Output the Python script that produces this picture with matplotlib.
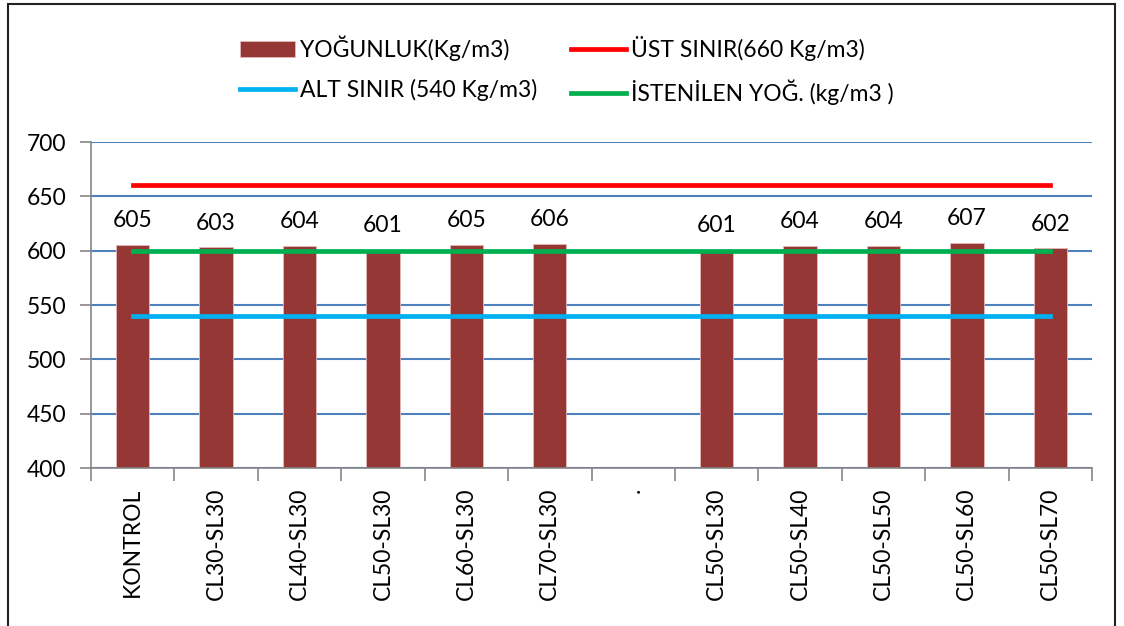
import numpy as np
import matplotlib
matplotlib.use('Agg')
import matplotlib.pyplot as plt
from matplotlib.patches import Rectangle

plt.rcParams['font.family'] = ['Lato', 'DejaVu Sans']

categories = ['KONTROL', 'CL30-SL30', 'CL40-SL30', 'CL50-SL30', 'CL60-SL30',
              'CL70-SL30', '.', 'CL50-SL30', 'CL50-SL40', 'CL50-SL50',
              'CL50-SL60', 'CL50-SL70']
yogunluk = [605, 603, 604, 601, 605, 606, np.nan, 601, 604, 604, 607, 602]
ust_sinir = [660, 660, 660, 660, 660, 660, 660, 660, 660, 660, 660, 660]
alt_sinir = [540, 540, 540, 540, 540, 540, 540, 540, 540, 540, 540, 540]
istenilen = [600, 600, 600, 600, 600, 600, 600, 600, 600, 600, 600, 600]

fs = 16.5
grid_blue = '#4F81BD'
axis_gray = '#868686'

fig = plt.figure(figsize=(11.24, 6.26), dpi=100)
ax = fig.add_axes([91 / 1124, 1 - 468 / 626, (1092 - 91) / 1124, (468 - 142) / 626])

x = np.arange(len(categories))

bars = ax.bar(x, yogunluk, width=0.4, color='#953735', edgecolor='#E6B9B8',
              linewidth=0.6, zorder=2, label='YOĞUNLUK(Kg/m3)')
l_ust, = ax.plot(x, ust_sinir, color='#FF0000', lw=3.4, zorder=3,
                 label='ÜST SINIR(660 Kg/m3)')
l_alt, = ax.plot(x, alt_sinir, color='#00B0F0', lw=3.4, zorder=3,
                 label='ALT SINIR (540 Kg/m3)')
l_ist, = ax.plot(x, istenilen, color='#00B050', lw=3.4, zorder=3,
                 label='İSTENİLEN YOĞ. (kg/m3 )')

for xi, v in zip(x, yogunluk):
    if np.isnan(v):
        continue
    ax.annotate('{:d}'.format(int(v)), xy=(xi, v), xytext=(0, 10),
                textcoords='offset points', ha='center', va='bottom',
                fontsize=fs, zorder=4)

ax.set_xlim(-0.5, len(categories) - 0.5)
ax.set_ylim(400, 700)
ax.set_yticks(np.arange(400, 701, 50))
ax.yaxis.grid(True, color=grid_blue, lw=1.5)
ax.set_axisbelow(True)

ax.set_xticks(x)
ax.set_xticklabels(categories, rotation=90, fontsize=fs)
ax.set_xticks(np.arange(-0.5, len(categories)), minor=True)
ax.tick_params(axis='x', which='major', length=0, pad=14)
ax.tick_params(axis='x', which='minor', length=9, width=1.2, color=axis_gray)
ax.tick_params(axis='y', length=8, width=1.2, color=axis_gray, labelsize=fs, pad=10)

for side in ['top', 'right']:
    ax.spines[side].set_visible(False)
for side in ['left', 'bottom']:
    ax.spines[side].set_color(axis_gray)
    ax.spines[side].set_linewidth(1.2)

fig.legend(handles=[bars, l_alt, l_ust, l_ist], ncol=2, frameon=False,
           loc='upper left', bbox_to_anchor=(229 / 1124, 1 - 24 / 626),
           fontsize=fs, borderpad=0, handlelength=2.4, handletextpad=0.2,
           columnspacing=1.48, labelspacing=0.8)

fig.patches.append(Rectangle((8 / 1124, -0.05), (1115 - 8) / 1124, 1.05 - 4 / 626,
                             transform=fig.transFigure, fill=False,
                             edgecolor='#222222', lw=1.5))

fig.savefig('out.png', dpi=100)
